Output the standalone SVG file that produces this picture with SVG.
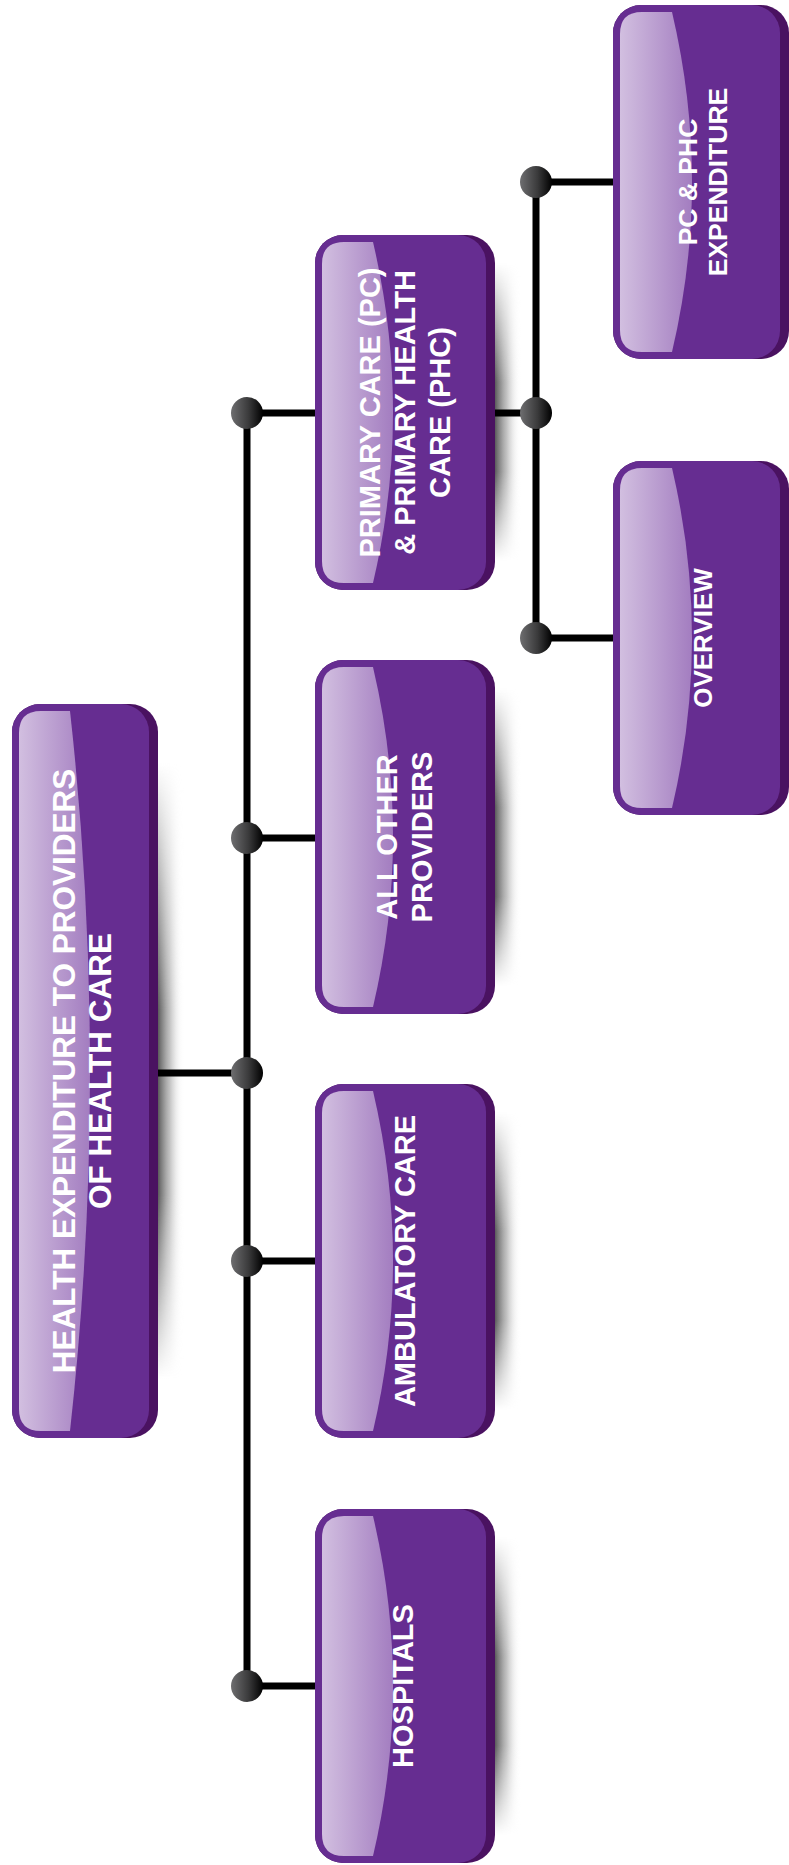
<svg xmlns="http://www.w3.org/2000/svg" width="789" height="1865" viewBox="0 0 789 1865">
<style>
.edge{fill:#4a1261}
.face{fill:#662d91}
.hl{fill:url(#hlg)}
.sh{fill:url(#shg)}
.lbl{font-family:"Liberation Sans",Arial,Helvetica,sans-serif;font-weight:bold;fill:#fff;text-anchor:middle}
.l2{font-size:29px}
.l3{font-size:26.5px}
.l1{font-size:31.5px}
.conn{stroke:#000;stroke-width:7;fill:none}
.dot{fill:url(#dotg)}
</style>
<defs>
<linearGradient id="hlg" x1="0" y1="0" x2="1" y2="0">
<stop offset="0" stop-color="#d2bfe0"/>
<stop offset="1" stop-color="#a37dc0"/>
</linearGradient>
<linearGradient id="shg" x1="0" y1="0" x2="1" y2="0">
<stop offset="0" stop-color="#3a3a3a" stop-opacity="0.95"/>
<stop offset="0.5" stop-color="#8a8a8a" stop-opacity="0.5"/>
<stop offset="1" stop-color="#ffffff" stop-opacity="0"/>
</linearGradient>
<linearGradient id="vfade" x1="0" y1="0" x2="0" y2="1">
<stop offset="0" stop-color="#fff" stop-opacity="0"/>
<stop offset="0.4" stop-color="#fff" stop-opacity="1"/>
<stop offset="0.7" stop-color="#fff" stop-opacity="1"/>
<stop offset="1" stop-color="#fff" stop-opacity="0"/>
</linearGradient>
<mask id="vm" maskContentUnits="objectBoundingBox">
<rect width="1" height="1" fill="url(#vfade)"/>
</mask>
<linearGradient id="dotg" x1="0" y1="0" x2="1" y2="0">
<stop offset="0" stop-color="#6e6e70"/>
<stop offset="0.55" stop-color="#3a3a3b"/>
<stop offset="1" stop-color="#000"/>
</linearGradient>
</defs>
<rect width="789" height="1865" fill="#fff"/>

<g id="node-main">
<rect class="sh" x="156" y="763" width="28" height="616" mask="url(#vm)"/>
<rect class="edge" x="12" y="704" width="146" height="734" rx="28"/>
<rect class="face" x="12" y="704" width="137" height="734" rx="28"/>
<path class="hl" d="M41,711H70Q110,1071 70,1431H41Q19,1431 19,1409V733Q19,711 41,711Z"/>
<text class="lbl l1" transform="translate(74.5,1071) rotate(-90)">HEALTH EXPENDITURE TO PROVIDERS</text>
<text class="lbl l1" transform="translate(111,1071) rotate(-90)">OF HEALTH CARE</text>
</g>

<g id="node-pc">
<rect class="sh" x="493" y="263" width="28" height="298" mask="url(#vm)"/>
<rect class="edge" x="315" y="235" width="180" height="355" rx="28"/>
<rect class="face" x="315" y="235" width="171" height="355" rx="28"/>
<path class="hl" d="M344,242H373Q413,412.5 373,583H344Q322,583 322,561V264Q322,242 344,242Z"/>
<text class="lbl l2" transform="translate(380,412.5) rotate(-90)">PRIMARY CARE (PC)</text>
<text class="lbl l2" transform="translate(415,412.5) rotate(-90)">&amp; PRIMARY HEALTH</text>
<text class="lbl l2" transform="translate(450,412.5) rotate(-90)">CARE (PHC)</text>
</g>

<g id="node-other">
<rect class="sh" x="493" y="688" width="28" height="298" mask="url(#vm)"/>
<rect class="edge" x="315" y="660" width="180" height="354" rx="28"/>
<rect class="face" x="315" y="660" width="171" height="354" rx="28"/>
<path class="hl" d="M344,667H373Q413,837 373,1007H344Q322,1007 322,985V689Q322,667 344,667Z"/>
<text class="lbl l2" transform="translate(397,837) rotate(-90)">ALL OTHER</text>
<text class="lbl l2" transform="translate(432,837) rotate(-90)">PROVIDERS</text>
</g>

<g id="node-ambulatory">
<rect class="sh" x="493" y="1112" width="28" height="298" mask="url(#vm)"/>
<rect class="edge" x="315" y="1084" width="180" height="354" rx="28"/>
<rect class="face" x="315" y="1084" width="171" height="354" rx="28"/>
<path class="hl" d="M344,1091H373Q413,1261 373,1431H344Q322,1431 322,1409V1113Q322,1091 344,1091Z"/>
<text class="lbl l2" transform="translate(414.5,1261) rotate(-90)">AMBULATORY CARE</text>
</g>

<g id="node-hospitals">
<rect class="sh" x="493" y="1537" width="28" height="298" mask="url(#vm)"/>
<rect class="edge" x="315" y="1509" width="180" height="354" rx="28"/>
<rect class="face" x="315" y="1509" width="171" height="354" rx="28"/>
<path class="hl" d="M344,1516H373Q413,1686 373,1856H344Q322,1856 322,1834V1538Q322,1516 344,1516Z"/>
<text class="lbl l2" transform="translate(413,1686) rotate(-90)">HOSPITALS</text>
</g>

<g id="node-pcexp">
<rect class="edge" x="613" y="5" width="176" height="354" rx="28"/>
<rect class="face" x="613" y="5" width="167" height="354" rx="28"/>
<path class="hl" d="M642,12H672Q712,182 672,352H642Q620,352 620,330V34Q620,12 642,12Z"/>
<text class="lbl l3" transform="translate(697,182) rotate(-90)">PC &amp; PHC</text>
<text class="lbl l3" transform="translate(727,182) rotate(-90)">EXPENDITURE</text>
</g>

<g id="node-overview">
<rect class="edge" x="613" y="461" width="176" height="354" rx="28"/>
<rect class="face" x="613" y="461" width="167" height="354" rx="28"/>
<path class="hl" d="M642,468H672Q712,638 672,808H642Q620,808 620,786V490Q620,468 642,468Z"/>
<text class="lbl l3" style="font-size:26px" transform="translate(712,638) rotate(-90)">OVERVIEW</text>
</g>

<g id="connectors">
<path class="conn" d="M158,1073H247M247,413V1686M247,413H315M247,838H315M247,1261H315M247,1686H315M495,413H536M536,182V638M536,182H613M536,638H613"/>
<circle class="dot" cx="247" cy="413" r="16"/>
<circle class="dot" cx="247" cy="838" r="16"/>
<circle class="dot" cx="247" cy="1073" r="16"/>
<circle class="dot" cx="247" cy="1261" r="16"/>
<circle class="dot" cx="247" cy="1686" r="16"/>
<circle class="dot" cx="536" cy="182" r="16"/>
<circle class="dot" cx="536" cy="413" r="16"/>
<circle class="dot" cx="536" cy="638" r="16"/>
</g>
</svg>
